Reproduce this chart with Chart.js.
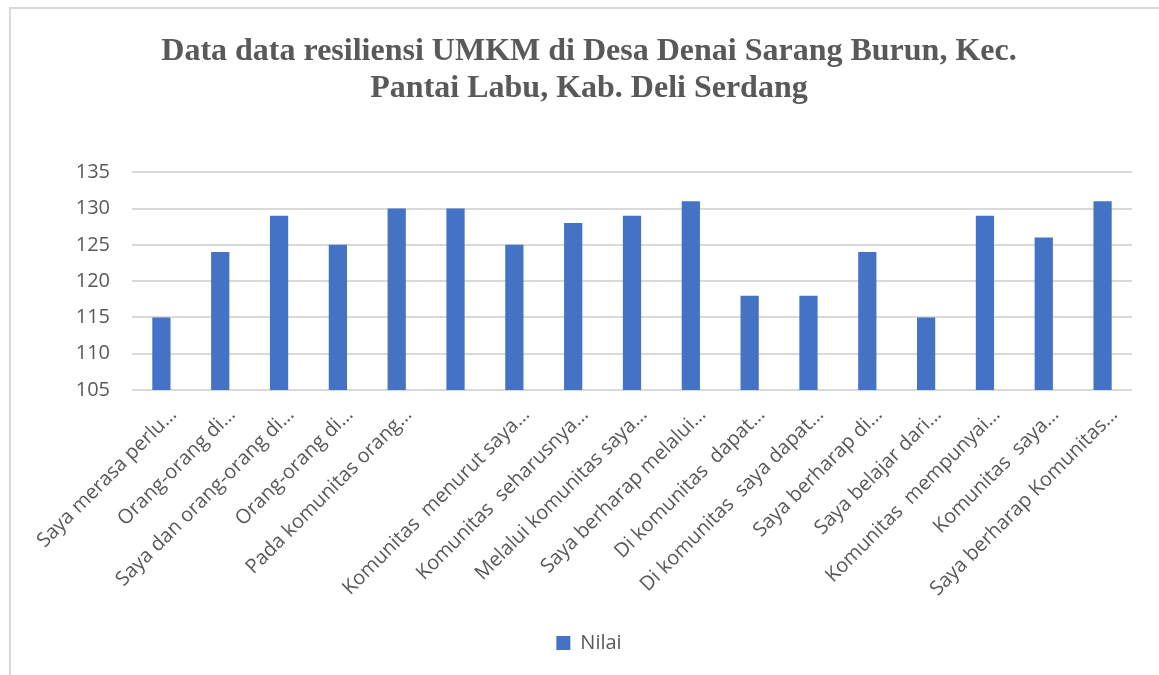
<!DOCTYPE html>
<html>
<head>
<meta charset="utf-8">
<script src="https://cdn.jsdelivr.net/npm/chart.js@4.4.0/dist/chart.umd.min.js"></script>
<style>
  html, body { margin: 0; padding: 0; background: #fff; }
  #frame {
    position: absolute; left: 9px; top: 7px; width: 1200px; height: 700px;
    border-left: 2px solid #d9d9d9; border-top: 2px solid #d9d9d9;
  }
  #wrap { position: absolute; left: 0; top: 0; width: 1159px; height: 675px; }
</style>
</head>
<body>
<div id="frame"></div>
<div id="wrap"><canvas id="myChart" width="1159" height="675"></canvas></div>
<script>
const categories = [
  "Saya merasa perlu…",
  "Orang-orang di…",
  "Saya dan orang-orang di…",
  "Orang-orang di…",
  "Pada komunitas orang…",
  "",
  "Komunitas  menurut saya…",
  "Komunitas  seharusnya…",
  "Melalui komunitas saya…",
  "Saya berharap melalui…",
  "Di komunitas  dapat…",
  "Di komunitas  saya dapat…",
  "Saya berharap di…",
  "Saya belajar dari…",
  "Komunitas  mempunyai…",
  "Komunitas  saya…",
  "Saya berharap Komunitas…"
];
const nilai = [115, 124, 129, 125, 130, 130, 125, 128, 129, 131, 118, 118, 124, 115, 129, 126, 131];
const yTicks = [105, 110, 115, 120, 125, 130, 135];

const gray = "#595959";

const ctx = document.getElementById("myChart");
new Chart(ctx, {
  type: "bar",
  data: {
    labels: categories,
    datasets: [{
      label: "Nilai",
      data: nilai,
      backgroundColor: "#4472C4",
      borderWidth: 0,
      barPercentage: 0.31,
      categoryPercentage: 1
    }]
  },
  options: {
    responsive: false,
    animation: false,
    layout: { padding: { left: 46, right: 27, top: 0, bottom: 12 } },
    plugins: {
      title: {
        display: true,
        text: ["Data data resiliensi UMKM di Desa Denai Sarang Burun, Kec.", "Pantai Labu, Kab. Deli Serdang"],
        color: gray,
        font: { family: "'Liberation Serif', serif", size: 32, weight: "bold", lineHeight: 1.16 },
        padding: { top: 33, bottom: 65 }
      },
      legend: {
        position: "bottom",
        labels: {
          color: gray,
          boxWidth: 14,
          boxHeight: 14,
          font: { family: "'Open Sans', sans-serif", size: 20 }
        }
      },
      tooltip: { enabled: false }
    },
    scales: {
      x: {
        grid: { display: false },
        border: { display: false },
        ticks: {
          autoSkip: false,
          maxRotation: 45,
          minRotation: 45,
          padding: 5,
          labelOffset: 12,
          color: gray,
          font: { family: "'Open Sans', sans-serif", size: 20 }
        },
        afterFit: (scale) => { scale.height = 233; }
      },
      y: {
        min: yTicks[0],
        max: yTicks[yTicks.length - 1],
        border: { display: false },
        grid: { color: "#d9d9d9", lineWidth: 2, drawTicks: false },
        ticks: {
          stepSize: 5,
          padding: 22,
          color: gray,
          font: { family: "'Open Sans', sans-serif", size: 20 }
        },
        afterFit: (scale) => { scale.width = 86; }
      }
    }
  }
});
</script>
</body>
</html>
